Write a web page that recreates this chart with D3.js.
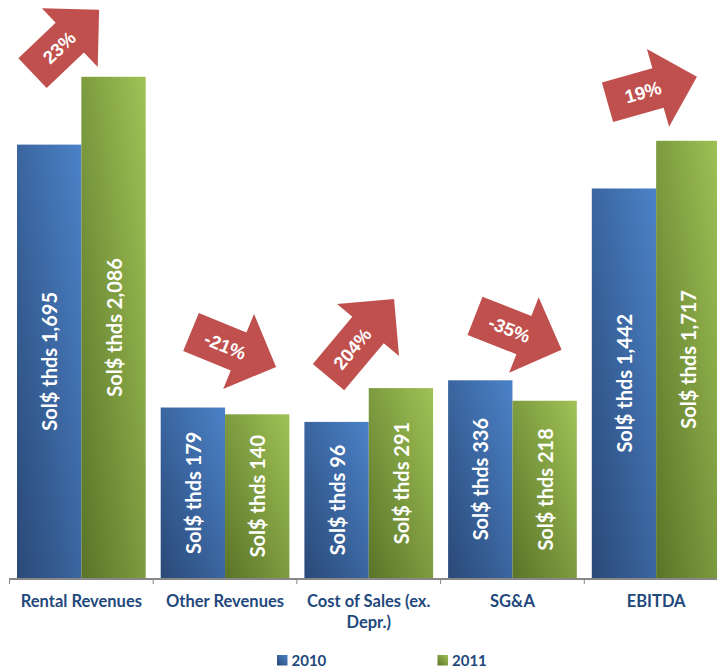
<!DOCTYPE html>
<html>
<head>
<meta charset="utf-8">
<script src="https://cdn.jsdelivr.net/npm/d3@7/dist/d3.min.js"></script>
<style>
  html, body { margin: 0; padding: 0; background: #ffffff; }
  svg { display: block; overflow: hidden; }
</style>
</head>
<body>
<div id="chart"></div>
<script>
// ---- data ----
const categories = ["Rental Revenues", "Other Revenues", "Cost of Sales (ex. Depr.)", "SG&A", "EBITDA"];
const seriesNames = ["2010", "2011"];
const values2010 = [1695, 179, 96, 336, 1442];
const values2011 = [2086, 140, 291, 218, 1717];
const changeLabels = ["23%", "-21%", "204%", "-35%", "19%"];
const yDomain = [-804, 2500];

// ---- layout ----
const W = 717, H = 668;
const axisY = 578;
const bandStart = 9.5, bandStep = 143.7;

// placement of the change arrows: offset of the arrow tail from the left edge of
// the category band and from the top of the taller bar, rotation, total length
const arrowLayout = [
  { dx: 23.0, dy: -3.7, angle: -43.6, len: 92 },
  { dx: 37.8, dy: -75.6, angle: 22.4, len: 92 },
  { dx: 31.6, dy: -11.0, angle: -50.0, len: 102 },
  { dx: 34.4, dy: -64.4, angle: 21.4, len: 93 },
  { dx: 23.2, dy: -38.5, angle: -15.9, len: 93 }
];

const svg = d3.select("#chart").append("svg")
  .attr("width", W).attr("height", H);

const defs = svg.append("defs");
function addGradient(id, c0, c1) {
  const g = defs.append("linearGradient").attr("id", id)
    .attr("x1", 0).attr("y1", 1).attr("x2", 1).attr("y2", 0);
  g.append("stop").attr("offset", "0%").attr("stop-color", c0);
  g.append("stop").attr("offset", "100%").attr("stop-color", c1);
}
addGradient("grad2010", "#2A4977", "#4B82C8");
addGradient("grad2011", "#5A7428", "#A0C256");
const fills = ["url(#grad2010)", "url(#grad2011)"];

const x = d3.scaleBand()
  .domain(categories)
  .range([bandStart, bandStart + bandStep * categories.length])
  .paddingInner(0).paddingOuter(0);

const xs = d3.scaleBand()
  .domain(seriesNames)
  .range([7.5, x.bandwidth() - 7.5])
  .padding(0);

const y = d3.scaleLinear().domain(yDomain).range([axisY, 5]);

const rows = categories.map((c, i) => ({
  cat: c,
  vals: [values2010[i], values2011[i]]
}));

// ---- bars ----
const groups = svg.append("g").selectAll("g")
  .data(rows).join("g")
  .attr("transform", d => `translate(${x(d.cat)},0)`);

const fmt = d3.format(",");
groups.each(function(d) {
  const g = d3.select(this);
  seriesNames.forEach((s, j) => {
    const v = d.vals[j];
    g.append("rect")
      .attr("x", xs(s))
      .attr("y", y(v))
      .attr("width", xs.bandwidth())
      .attr("height", axisY - y(v))
      .attr("fill", fills[j]);
    const cx = xs(s) + xs.bandwidth() / 2;
    const cy = (y(v) + axisY) / 2;
    g.append("text")
      .attr("transform", `translate(${cx},${cy}) rotate(-90)`)
      .attr("text-anchor", "middle")
      .attr("dominant-baseline", "central")
      .attr("font-family", "Lato, 'Open Sans', sans-serif")
      .attr("font-weight", "bold")
      .attr("font-size", 20)
      .attr("fill", "#ffffff")
      .text("Sol$ thds " + fmt(v));
  });
});

// ---- category axis ----
const axisG = svg.append("g");
axisG.append("line")
  .attr("x1", bandStart - 0.5).attr("x2", W)
  .attr("y1", axisY + 1).attr("y2", axisY + 1)
  .attr("stroke", "#878787").attr("stroke-width", 2);
const tickPos = categories.map(c => x(c)).concat([x.range()[1]]);
axisG.selectAll("line.tick").data(tickPos).join("line")
  .attr("class", "tick")
  .attr("x1", d => d).attr("x2", d => d)
  .attr("y1", axisY + 1).attr("y2", axisY + 6)
  .attr("stroke", "#878787").attr("stroke-width", 1);

const catLabels = axisG.selectAll("text.cat").data(categories).join("text")
  .attr("class", "cat")
  .attr("x", d => x(d) + x.bandwidth() / 2)
  .attr("y", 607)
  .attr("text-anchor", "middle")
  .attr("font-family", "Lato, 'Open Sans', sans-serif")
  .attr("font-weight", "bold")
  .attr("font-size", 16.5)
  .attr("fill", "#1F497D");

// word-wrap each label to the width of its band
catLabels.each(function(d) {
  const t = d3.select(this);
  const cx = x(d) + x.bandwidth() / 2;
  const words = d.split(" ");
  let line = [];
  let tspan = t.append("tspan").attr("x", cx).attr("dy", 0);
  words.forEach(w => {
    line.push(w);
    tspan.text(line.join(" "));
    if (tspan.node().getComputedTextLength() > x.bandwidth() - 4 && line.length > 1) {
      line.pop();
      tspan.text(line.join(" "));
      line = [w];
      tspan = t.append("tspan").attr("x", cx).attr("dy", 21).text(w);
    }
  });
});

// ---- change arrows ----
function arrowPath(L) {
  const sw = 20.5, hw = 40.5, hl = 40.5;
  return `M0,${-sw} L${L - hl},${-sw} L${L - hl},${-hw} L${L},0 L${L - hl},${hw} L${L - hl},${sw} L0,${sw} Z`;
}
const arrows = svg.append("g");
rows.forEach((d, i) => {
  const a = arrowLayout[i];
  const top = y(d3.max(d.vals));
  const tx = x(d.cat) + a.dx;
  const ty = top + a.dy;
  const g = arrows.append("g")
    .attr("transform", `translate(${tx},${ty}) rotate(${a.angle})`);
  g.append("path").attr("d", arrowPath(a.len)).attr("fill", "#C0504D");
  g.append("text")
    .attr("x", 37).attr("y", 0)
    .attr("text-anchor", "middle")
    .attr("dominant-baseline", "central")
    .attr("font-family", "'Liberation Sans', Arial, sans-serif")
    .attr("font-weight", "bold")
    .attr("font-size", 18.5)
    .attr("fill", "#ffffff")
    .text(changeLabels[i]);
});

// ---- legend ----
const legendX = [277, 437.5];
const legend = svg.append("g");
seriesNames.forEach((s, j) => {
  legend.append("rect")
    .attr("x", legendX[j]).attr("y", 655)
    .attr("width", 10.5).attr("height", 10.5)
    .attr("fill", fills[j]);
  legend.append("text")
    .attr("x", legendX[j] + 14.5).attr("y", 665.5)
    .attr("font-family", "Lato, 'Open Sans', sans-serif")
    .attr("font-weight", "bold")
    .attr("font-size", 15)
    .attr("fill", "#1F497D")
    .text(s);
});
</script>
</body>
</html>
